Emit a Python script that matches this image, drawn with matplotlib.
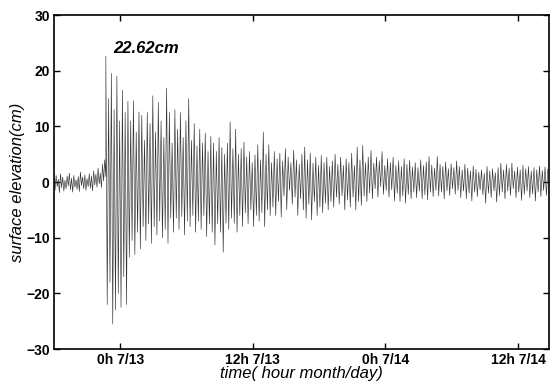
import numpy as np
import matplotlib
matplotlib.use("Agg")
import matplotlib.pyplot as plt

plt.rcParams['font.family'] = ['Liberation Sans', 'DejaVu Sans']

# ---- data (cm) ----
# pre-event noise, sampled every 0.1 h starting at -6 h (alternating high / low)
pre_peaks = [0.8, 1.2, 0.5, 1.5, 0.9, 0.3, 1.1, 1.6, 0.7, 1.2, 0.4, 1.0,
             1.8, 0.9, 1.3, 0.6, 1.5, 1.1, 2.0, 1.4, 2.5, 1.6, 3.2, 4.0]
pre_troughs = [-1.5, -0.8, -1.9, -1.0, -1.6, -1.2, -0.7, -1.4, -1.8, -0.9, -1.3, -1.7,
               -0.6, -1.2, -1.5, -0.8, -1.1, -1.6, -0.5, -0.9, -0.3, -1.0, 0.2, 1.0]

# tsunami oscillation: one crest and one trough per 0.25 h cycle starting at -1.3 h
peaks = [
    22.6, 15.0, 19.5, 13.0, 19.0, 11.0, 16.5, 12.5,
    14.5, 11.0, 14.6, 9.0, 12.6, 12.0, 7.5, 12.5,
    10.5, 15.5, 9.0, 14.3, 11.0, 8.0, 16.9, 12.5,
    7.0, 13.0, 9.5, 12.5, 8.0, 11.0, 15.0, 7.5,
    10.5, 6.5, 9.5, 7.0, 8.8, 5.5, 8.2, 7.0,
    5.5, 8.0, 6.2, 5.0, 7.0, 10.8, 6.0, 9.5,
    5.0, 6.0, 7.2, 4.5, 5.5, 3.5, 4.9, 6.7,
    4.0, 9.0, 5.0, 6.7, 3.5, 5.5, 4.2, 5.2,
    3.8, 6.0, 4.5, 3.5, 5.7, 4.0, 3.2, 5.0,
    6.3, 4.0, 5.2, 3.4, 4.5, 3.0, 4.8, 3.5,
    4.5, 2.8, 3.8, 5.0, 3.2, 4.5, 3.0, 4.2,
    3.5, 5.2, 3.0, 6.3, 4.0, 6.6, 3.5, 4.5,
    5.7, 3.4, 4.5, 3.8, 5.5, 3.0, 4.2, 3.5,
    4.5, 3.0, 3.8, 2.8, 4.2, 3.2, 3.9, 2.7,
    3.5, 2.6, 4.0, 3.0, 3.6, 4.6, 3.1, 2.5,
    4.6, 3.2, 2.8, 3.6, 2.4, 3.3, 2.6, 3.8,
    2.8, 2.2, 3.2, 2.5, 2.0, 2.9, 2.3, 1.8,
    2.2, 1.6, 2.8, 2.0, 2.4, 1.7, 2.6, 3.4,
    2.2, 3.2, 2.5, 3.4, 2.0, 2.7, 2.2, 3.0,
    2.4, 2.8, 2.0, 2.6, 2.2, 2.9, 2.1, 2.7,
    2.3,
]
troughs = [
    -22.0, -18.0, -25.5, -23.0, -20.0, -22.5, -17.0, -22.0,
    -13.5, -10.5, -13.0, -9.0, -12.0, -8.0, -10.5, -7.5,
    -11.0, -8.0, -9.5, -7.0, -10.0, -8.5, -11.0, -6.5,
    -9.0, -6.5, -8.5, -6.2, -9.5, -7.0, -8.0, -6.0,
    -9.0, -7.0, -8.5, -6.0, -9.8, -7.5, -9.0, -11.3,
    -7.5, -9.0, -12.6, -7.4, -8.5, -6.5, -7.4, -9.0,
    -6.0, -8.0, -5.5, -7.5, -5.0, -8.0, -6.0, -7.0,
    -5.5, -8.0, -5.0, -6.0, -4.5, -6.0, -3.5, -6.3,
    -2.5, -5.0, -1.5, -4.0, -2.7, -6.0, -3.0, -5.0,
    -6.5, -4.0, -6.8, -3.5, -6.0, -4.5, -5.5, -3.8,
    -5.0, -3.5, -4.5, -2.7, -4.0, -2.5, -5.0, -3.2,
    -4.5, -2.7, -5.0, -3.5, -4.2, -2.5, -3.5, -2.0,
    -3.0, -1.2, -2.7, -0.8, -2.2, -1.5, -2.7, -1.4,
    -3.4, -2.0, -3.5, -2.5, -3.8, -2.2, -3.0, -1.8,
    -2.8, -1.6, -3.0, -2.3, -3.2, -1.8, -2.6, -1.5,
    -2.5, -1.8, -3.0, -1.6, -2.4, -1.2, -2.2, -1.5,
    -2.8, -1.6, -3.0, -2.0, -3.4, -1.8, -2.6, -1.4,
    -2.3, -3.8, -2.0, -2.8, -1.6, -3.6, -2.4, -1.8,
    -3.0, -1.6, -2.4, -1.2, -2.8, -1.8, -3.3, -2.2,
    -1.6, -2.8, -2.1, -3.4, -1.8, -2.6, -1.5, -2.4,
]

pre_start, pre_step = -6.0, 0.2      # hours
ev_start, ev_step = -1.3, 0.25       # hours

xtick_pos = [0, 12, 24, 36]
xtick_labels = ['0h 7/13', '12h 7/13', '0h 7/14', '12h 7/14']
ytick_pos = [-30, -20, -10, 0, 10, 20, 30]
peak_label = '22.62cm'

# ---- assemble the series (alternating crest/trough samples) ----
t_list, v_list = [], []
for i, (hi, lo) in enumerate(zip(pre_peaks, pre_troughs)):
    t0 = pre_start + i * pre_step
    t_list += [t0, t0 + pre_step / 2]
    v_list += [hi, lo]
for i in range(len(peaks)):
    t0 = ev_start + i * ev_step
    t_list.append(t0)
    v_list.append(peaks[i])
    if i < len(troughs):
        t_list.append(t0 + ev_step / 2)
        v_list.append(troughs[i])
t = np.array(t_list)
v = np.array(v_list)

fig = plt.figure(figsize=(5.5, 3.87), dpi=100)
ax = fig.add_axes([0.098, 0.098, 0.900, 0.863])
ax.plot(t, v, color='#333333', lw=0.45)

ax.set_xlim(-6, 38.8)
ax.set_ylim(-30, 30)
ax.set_xticks(xtick_pos)
ax.set_xticklabels(xtick_labels)
ax.set_yticks(ytick_pos)
ax.tick_params(direction='in', top=True, right=True, length=4, width=1,
               labelsize=10, pad=3)
for lab in ax.get_xticklabels() + ax.get_yticklabels():
    lab.set_fontweight('bold')
for s in ax.spines.values():
    s.set_linewidth(1.2)

ax.set_ylabel('surface elevation(cm)', fontsize=12, style='italic', labelpad=1)
ax.set_xlabel('time( hour month/day)', fontsize=12, style='italic', labelpad=-1)
ax.text(-0.6, 24, peak_label, fontsize=12, fontweight='bold', style='italic',
        va='center', ha='left')

fig.savefig('out.png', dpi=100)
